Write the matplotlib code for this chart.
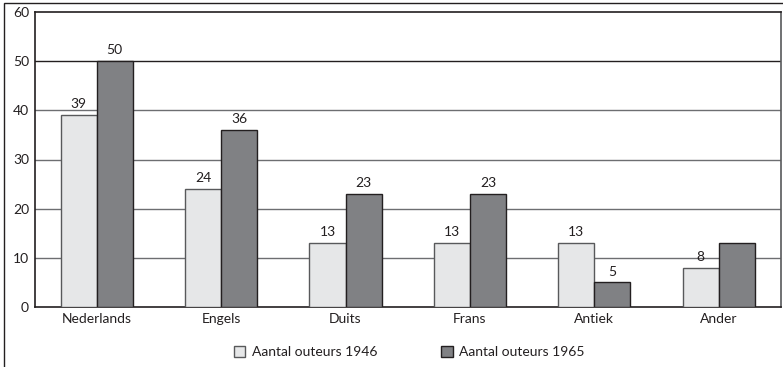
import numpy as np
import matplotlib.pyplot as plt
from matplotlib.patches import Rectangle

plt.rcParams['font.family'] = ['Lato', 'DejaVu Sans']

talen = ['Nederlands', 'Engels', 'Duits', 'Frans', 'Antiek', 'Ander']
outeurs_1946 = [39, 24, 13, 13, 13, 8]
outeurs_1965 = [50, 36, 23, 23, 5, 13]
labels_1946 = ['39', '24', '13', '13', '13', '8']
labels_1965 = ['50', '36', '23', '23', '5', None]
reeksen = ['Aantal outeurs 1946', 'Aantal outeurs 1965']

W, H = 783, 367
fig = plt.figure(figsize=(W / 100, H / 100), dpi=100)
ax = fig.add_axes([34.5 / W, 1 - 307 / H, (781 - 34.5) / W, (307 - 12) / H])

# rand om die hele figuur (rechts en onder loopt buiten beeld)
fig.patches.append(Rectangle((4 / W, -0.1), 1.2, 1 - 3 / H + 0.1,
                             transform=fig.transFigure, fill=False,
                             edgecolor='#231f20', linewidth=1.0))

x = np.arange(len(talen))
bw = 0.29
b1 = ax.bar(x - bw / 2, outeurs_1946, bw, color='#e6e7e8', edgecolor='#58595b',
            linewidth=1.0, zorder=3, label=reeksen[0])
b2 = ax.bar(x + bw / 2, outeurs_1965, bw, color='#808184', edgecolor='#231f20',
            linewidth=1.0, zorder=3, label=reeksen[1])

for rects, labs in ((b1, labels_1946), (b2, labels_1965)):
    for r, lab in zip(rects, labs):
        if lab is None:
            continue
        ax.text(r.get_x() + r.get_width() / 2, r.get_height() + 1.0, lab,
                ha='center', va='bottom', fontsize=10, color='#231f20')

ax.set_xlim(-0.5, len(talen) - 0.5)
ax.set_ylim(0, 60)
ax.set_yticks(range(0, 61, 10))
ax.set_xticks(x)
ax.set_xticklabels(talen)
ax.tick_params(length=0, labelsize=10, colors='#231f20')
ax.tick_params(axis='y', pad=4)
ax.tick_params(axis='x', pad=4)

for y in range(10, 60, 10):
    c = '#231f20' if y == 50 else '#6d6e71'
    ax.axhline(y, color=c, linewidth=1.0, zorder=1)

for s in ax.spines.values():
    s.set_color('#231f20')
    s.set_linewidth(1.2)
ax.spines['right'].set_color('#58595b')

fig.legend(handles=[b1, b2], labels=reeksen, loc='center', ncol=2,
           bbox_to_anchor=(409 / W, 1 - 352 / H), frameon=False, fontsize=10,
           handlelength=0.85, handleheight=0.85, handletextpad=0.45,
           columnspacing=4.6, labelcolor='#231f20')

fig.savefig('out.png', dpi=100)
